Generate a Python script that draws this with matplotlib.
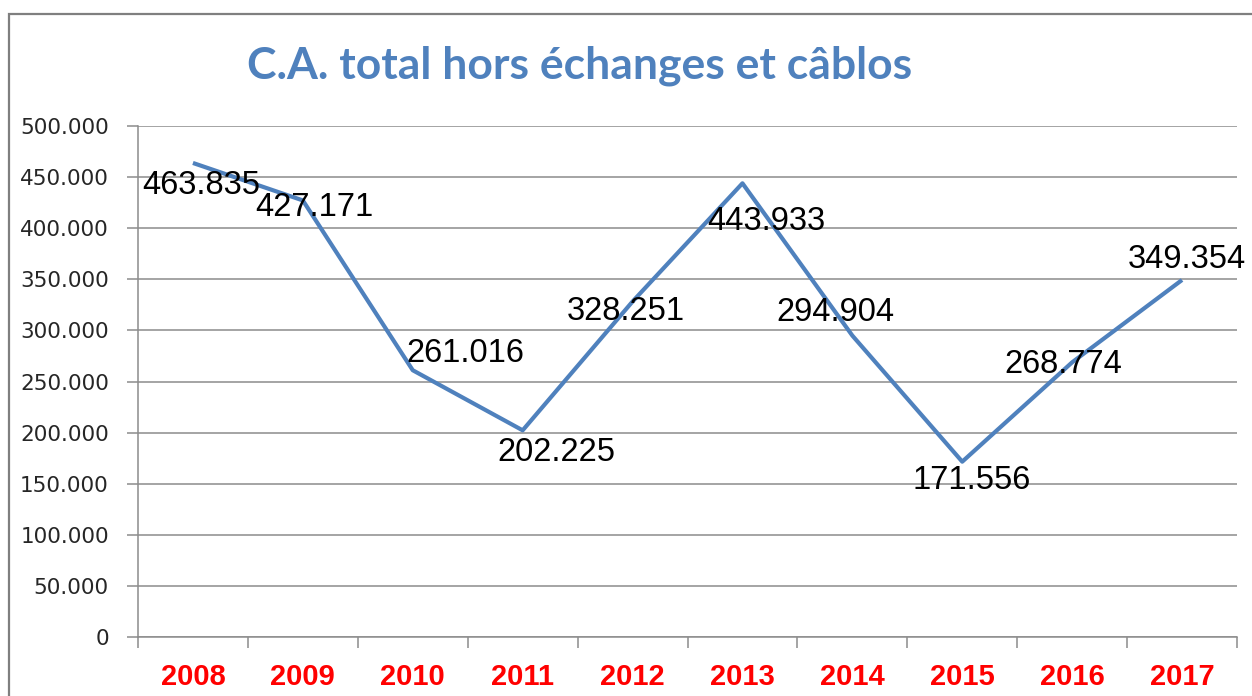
import matplotlib.pyplot as plt
from matplotlib.patches import Rectangle
from matplotlib.ticker import FuncFormatter, FixedLocator

annees = ['2008', '2009', '2010', '2011', '2012', '2013', '2014', '2015', '2016', '2017']
ca_total = [463835, 427171, 261016, 202225, 328251, 443933, 294904, 171556, 268774, 349354]
etiquettes = ['463.835', '427.171', '261.016', '202.225', '328.251',
              '443.933', '294.904', '171.556', '268.774', '349.354']

# decalage des etiquettes (pixels, x vers la droite, y vers le bas)
decalage = [(8, 23), (12, 7), (53, -17), (34, 22), (-7, 10),
            (24, 38), (-17, -23), (9, 19), (-9, 2), (5, -20)]

bleu = '#4F81BD'
gris = '#8C8C8C'

fig = plt.figure(figsize=(12.52, 6.96), dpi=100)
fig.patches.append(Rectangle((9 / 1252, -0.1), 1.2, 1 - 14 / 696 + 0.1,
                             transform=fig.transFigure, fill=False,
                             edgecolor='#7F7F7F', linewidth=1.6))

ax = fig.add_axes([138 / 1252, 59 / 696, 1099 / 1252, 511 / 696])
x = list(range(len(annees)))
ax.plot(x, ca_total, color=bleu, linewidth=3, solid_capstyle='butt')

for i, (v, lab) in enumerate(zip(ca_total, etiquettes)):
    dx, dy = decalage[i]
    ax.annotate(lab, (i, v), xytext=(dx * 0.72, -dy * 0.72), textcoords='offset points',
                ha='center', va='center', fontsize=23.5, family='Liberation Sans',
                color='black')

ax.set_xlim(-0.5, len(annees) - 0.5)
ax.set_ylim(0, 500000)
ax.set_yticks(range(0, 500001, 50000))
ax.yaxis.set_major_formatter(FuncFormatter(lambda v, p: f'{int(v):,}'.replace(',', '.')))
ax.grid(axis='y', color=gris, linewidth=1.1)
ax.set_axisbelow(True)

ax.set_xticks(x)
ax.set_xticklabels(annees, fontsize=21, fontweight='bold', color='red', family='Liberation Sans')
ax.xaxis.set_minor_locator(FixedLocator([i - 0.5 for i in range(len(annees) + 1)]))
ax.tick_params(axis='x', which='major', length=0, pad=19)
ax.tick_params(axis='x', which='minor', length=8, width=1.1, color=gris, direction='out')
ax.tick_params(axis='y', length=8, width=1.1, color=gris, pad=13, labelsize=15.5, labelcolor='#262626')

for s in ['top', 'right']:
    ax.spines[s].set_visible(False)
for s in ['left', 'bottom']:
    ax.spines[s].set_color(gris)
    ax.spines[s].set_linewidth(1.1)

fig.text(580 / 1252, 1 - 66 / 696, 'C.A. total hors échanges et câblos', ha='center', va='center',
         fontsize=32, fontweight='bold', color=bleu, family='Lato')

fig.savefig('out.png', dpi=100)
